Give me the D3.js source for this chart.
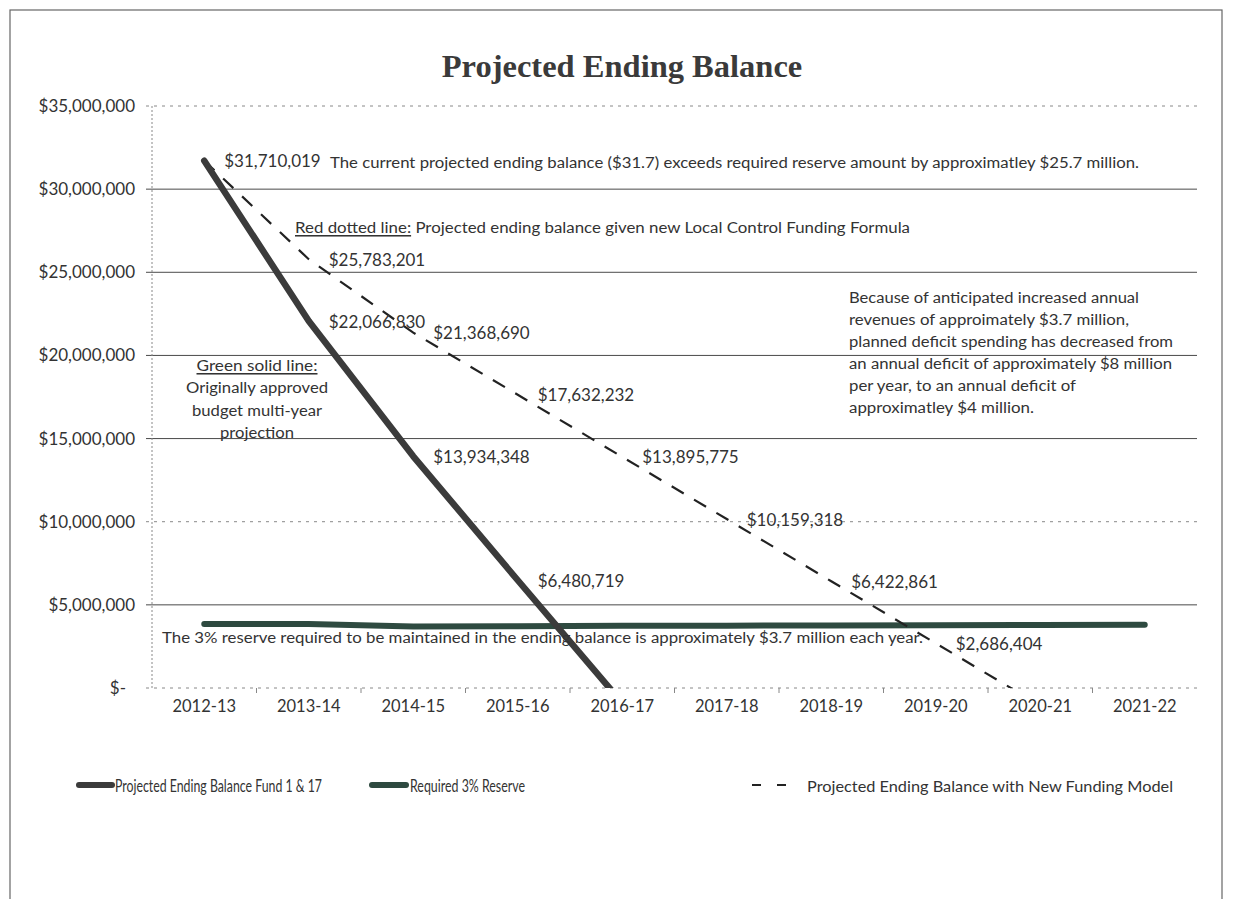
<!DOCTYPE html>
<html>
<head>
<meta charset="UTF-8">
<script src="https://cdn.jsdelivr.net/npm/d3@7"></script>
<style>
  body { margin: 0; background: #fff; }
  text { font-family: Lato, 'Noto Sans', sans-serif; fill: #333; }
  #title { font-family: 'Liberation Serif', 'DejaVu Serif', serif; font-weight: bold; fill: #3a3a3a; }
</style>
</head>
<body>
<script>
// chart data
const years = ['2012-13', '2013-14', '2014-15', '2015-16', '2016-17',
               '2017-18', '2018-19', '2019-20', '2020-21', '2021-22'];
const fundBalance = [31710019, 22066830, 13934348, 6480719, -900000];
const reserve = [3850000, 3850000, 3700000, 3720000, 3740000,
                 3750000, 3760000, 3780000, 3790000, 3800000];
const newModel = [31710019, 25783201, 21368690, 17632232, 13895775,
                  10159318, 6422861, 2686404, -1050053, -4786510];
const yTicks = [0, 5000000, 10000000, 15000000, 20000000, 25000000, 30000000, 35000000];
const seriesNames = ['Projected Ending Balance Fund 1 & 17', 'Required 3% Reserve',
                     'Projected Ending Balance with New Funding Model'];

const width = 1233, height = 899;
const plotLeft = 152, plotRight = 1197, plotTop = 106, plotBottom = 688;
const solidColor = '#3b3b3b', reserveColor = '#2e4a40';

const svg = d3.select('body').append('svg')
  .attr('width', width)
  .attr('height', height);

// outer frame of the pasted chart
svg.append('rect')
  .attr('x', 10).attr('y', 10)
  .attr('width', 1212).attr('height', 960)
  .attr('fill', 'none').attr('stroke', '#666').attr('stroke-width', 1.2);

svg.append('text')
  .attr('id', 'title')
  .attr('x', 622).attr('y', 77)
  .attr('text-anchor', 'middle')
  .attr('font-size', 32.5)
  .text('Projected Ending Balance');

const x = d3.scaleBand().domain(years).range([plotLeft, plotRight]);
const y = d3.scaleLinear().domain([0, 35000000]).range([plotBottom, plotTop]);
const cx = (i) => x(years[i]) + x.bandwidth() / 2;

// gridlines, some came out dotted in the scan
const dotted = [0, 10000000, 35000000];
svg.append('g').selectAll('line')
  .data(yTicks)
  .enter().append('line')
  .attr('x1', plotLeft - 6).attr('x2', plotRight)
  .attr('y1', d => y(d)).attr('y2', d => y(d))
  .attr('stroke', d => dotted.includes(d) ? '#888' : '#4a4a4a')
  .attr('stroke-width', 1)
  .attr('stroke-dasharray', d => dotted.includes(d) ? '3,5' : null);

svg.append('line')
  .attr('x1', plotLeft).attr('x2', plotLeft)
  .attr('y1', plotTop).attr('y2', plotBottom + 2)
  .attr('stroke', '#888').attr('stroke-dasharray', '2,2');

const yAxis = d3.axisLeft(y)
  .tickValues(yTicks)
  .tickSize(0)
  .tickPadding(17)
  .tickFormat(d => d === 0 ? '$-' : d3.format('$,')(d));

svg.append('g')
  .attr('transform', 'translate(' + plotLeft + ',0)')
  .call(yAxis)
  .call(g => g.select('.domain').remove())
  .selectAll('text')
  .attr('font-size', 17)
  .attr('dx', d => d === 0 ? -9 : 0)
  .style('font-family', 'Lato, sans-serif')
  .style('fill', '#333');

const xAxis = d3.axisBottom(x).tickSize(0).tickPadding(12);
svg.append('g')
  .attr('transform', 'translate(0,' + plotBottom + ')')
  .call(xAxis)
  .call(g => g.select('.domain').remove())
  .selectAll('text')
  .attr('font-size', 16.5)
  .style('font-family', 'Lato, sans-serif')
  .style('fill', '#333');

// small ticks between categories
svg.append('g').selectAll('line')
  .data(years.slice(1))
  .enter().append('line')
  .attr('x1', d => x(d)).attr('x2', d => x(d))
  .attr('y1', plotBottom).attr('y2', plotBottom + 5)
  .attr('stroke', '#888');

svg.append('clipPath').attr('id', 'plot')
  .append('rect')
  .attr('x', plotLeft).attr('y', plotTop)
  .attr('width', plotRight - plotLeft).attr('height', plotBottom - plotTop);

const line = d3.line().x((d, i) => cx(i)).y(d => y(d));
const plot = svg.append('g').attr('clip-path', 'url(#plot)');

plot.append('path')
  .datum(reserve)
  .attr('d', line)
  .attr('fill', 'none')
  .attr('stroke', reserveColor)
  .attr('stroke-width', 6)
  .attr('stroke-linecap', 'round');

plot.append('path')
  .datum(newModel)
  .attr('d', line)
  .attr('fill', 'none')
  .attr('stroke', '#222')
  .attr('stroke-width', 2.2)
  .attr('stroke-dasharray', '14,12');

plot.append('path')
  .datum(fundBalance)
  .attr('d', line)
  .attr('fill', 'none')
  .attr('stroke', solidColor)
  .attr('stroke-width', 6.5)
  .attr('stroke-linecap', 'round')
  .attr('stroke-linejoin', 'round');

// data labels
const fmt = d3.format('$,');
const labelled = fundBalance.map((v, i) => ({v: v, i: i}))
  .concat(newModel.map((v, i) => ({v: v, i: i})).filter(d => d.i > 0))
  .filter(d => d.v > 0);

svg.append('g').selectAll('text')
  .data(labelled)
  .enter().append('text')
  .attr('x', d => cx(d.i) + 20)
  .attr('y', d => y(d.v))
  .attr('dominant-baseline', 'central')
  .attr('font-size', 17)
  .text(d => fmt(d.v));

// annotation boxes
function note(tx, ty, str, len, anchor, size) {
  const t = svg.append('text')
    .attr('x', tx).attr('y', ty)
    .attr('dominant-baseline', 'central')
    .attr('font-size', size || 15.5)
    .attr('text-anchor', anchor || 'start')
    .text(str);
  if (len) t.attr('textLength', len).attr('lengthAdjust', 'spacingAndGlyphs');
  return t;
}

note(330, 162, 'The current projected ending balance ($31.7) exceeds required reserve amount by approximatley $25.7 million.', 809);

const red = svg.append('text')
  .attr('x', 295).attr('y', 227)
  .attr('dominant-baseline', 'central')
  .attr('font-size', 15.5)
  .attr('textLength', 615).attr('lengthAdjust', 'spacingAndGlyphs');
red.append('tspan').attr('text-decoration', 'underline').text('Red dotted line:');
red.append('tspan').text(' Projected ending balance given new Local Control Funding Formula');

note(257, 365, 'Green solid line:', 121, 'middle').attr('text-decoration', 'underline');
note(257, 387, 'Originally approved', 142, 'middle');
note(257, 410, 'budget multi-year', 130, 'middle');
note(257, 432, 'projection', 74, 'middle');

const block = [
  'Because of anticipated increased annual',
  'revenues of approimately  $3.7 million,',
  'planned deficit spending has decreased from',
  'an annual deficit of approximately $8 million',
  'per year, to an annual deficit of',
  'approximatley $4 million.'
];
const blockLen = [290, 280, 324, 323, 227, 185];
block.forEach((s, i) => note(849, 297 + i * 22, s, blockLen[i]));

note(162, 637, 'The 3% reserve required to be maintained in the ending balance is approximately $3.7 million each year.', 761);

// legend
const legend = svg.append('g');
legend.append('line')
  .attr('x1', 79).attr('x2', 112).attr('y1', 785).attr('y2', 785)
  .attr('stroke', solidColor).attr('stroke-width', 6).attr('stroke-linecap', 'round');
note(115, 785, seriesNames[0], 207, 'start', 17.5);
legend.append('line')
  .attr('x1', 372).attr('x2', 406).attr('y1', 785).attr('y2', 785)
  .attr('stroke', reserveColor).attr('stroke-width', 6).attr('stroke-linecap', 'round');
note(410, 785, seriesNames[1], 115, 'start', 17.5);
legend.append('line')
  .attr('x1', 752).attr('x2', 790).attr('y1', 785).attr('y2', 785)
  .attr('stroke', '#222').attr('stroke-width', 2).attr('stroke-dasharray', '9,16');
note(807, 785, seriesNames[2], 366, 'start', 16);
</script>
</body>
</html>
